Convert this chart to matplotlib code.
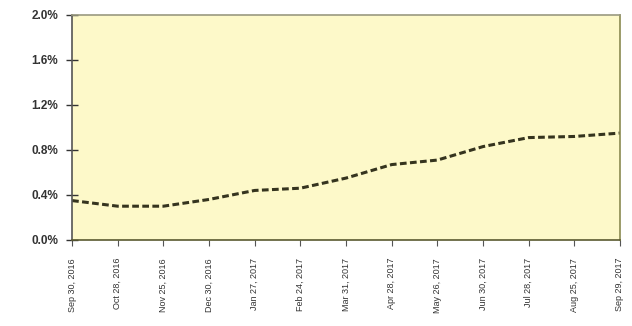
import matplotlib
matplotlib.use('Agg')
import matplotlib.pyplot as plt
from matplotlib.ticker import FuncFormatter

# month-end dates and the rate at each
dates = ['Sep 30, 2016', 'Oct 28, 2016', 'Nov 25, 2016', 'Dec 30, 2016',
         'Jan 27, 2017', 'Feb 24, 2017', 'Mar 31, 2017', 'Apr 28, 2017',
         'May 26, 2017', 'Jun 30, 2017', 'Jul 28, 2017', 'Aug 25, 2017',
         'Sep 29, 2017']
rate = [0.35, 0.30, 0.30, 0.36, 0.44, 0.46, 0.55, 0.67, 0.71, 0.83,
        0.91, 0.92, 0.95]
yticks = [0.0, 0.4, 0.8, 1.2, 1.6, 2.0]

fig = plt.figure(figsize=(6.32, 3.26), dpi=100)
ax = fig.add_axes([0.114, 0.264, 0.867, 0.69])
ax.set_facecolor('#fdf9c9')

x = list(range(len(dates)))
ax.plot(x, rate, color='#35341e', lw=2.2, ls=(0, (2.2, 1.1)))

ax.set_xlim(0, len(dates) - 1)
ax.set_ylim(0, 2.0)
ax.set_yticks(yticks)
ax.yaxis.set_major_formatter(FuncFormatter(lambda v, p: '%.1f%%' % v))
ax.set_xticks(x)
ax.set_xticklabels(dates, rotation=90, fontsize=6.5, color='#333333')
ax.tick_params(axis='y', labelsize=8.5, colors='#333333', direction='inout',
               length=8, width=1, pad=6)
ax.tick_params(axis='x', direction='out', length=4, width=0.8, pad=9,
               color='#555555')

ax.spines['left'].set_color('#555555')
ax.spines['top'].set_color('#9a9a80')
ax.spines['right'].set_color('#8a8a50')
ax.spines['bottom'].set_color('#5a5a30')
for s in ax.spines.values():
    s.set_linewidth(1.2)

for lbl in ax.get_yticklabels():
    lbl.set_fontfamily('Liberation Sans')
    lbl.set_fontweight('bold')
for lbl in ax.get_xticklabels():
    lbl.set_fontfamily('Liberation Sans')

fig.savefig('out.png', dpi=100)
